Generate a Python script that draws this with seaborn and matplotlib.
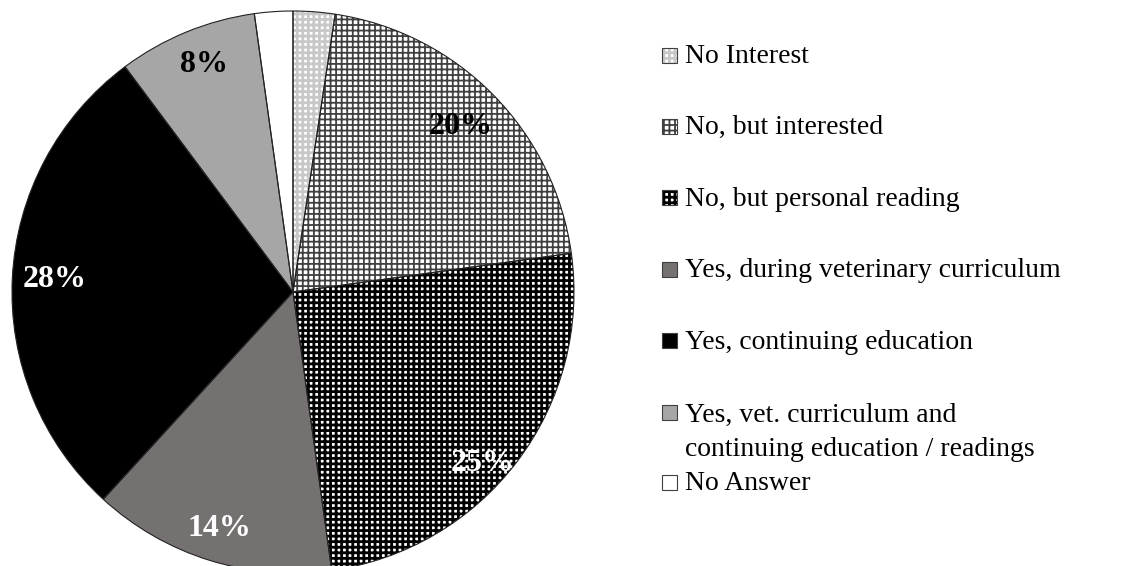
import matplotlib
matplotlib.use("Agg")
import matplotlib.pyplot as plt
from matplotlib.patches import Rectangle
import numpy as np
import seaborn as sns

categories = ["No Interest", "No, but interested", "No, but personal reading",
              "Yes, during veterinary curriculum", "Yes, continuing education",
              "Yes, vet. curriculum and\ncontinuing education / readings",
              "No Answer"]
shares = [2.4, 20.4, 25.0, 14.0, 28.0, 8.0, 2.2]
pct_labels = ["", "20%", "25%", "14%", "28%", "8%", ""]

# styles (Excel-like pattern fills)
face = ["white", "white", "white", "#767171", "#000000", "#a6a6a6", "white"]
hatches = ["+++", "+++", "+++", None, None, None, None]
hatch_col = ["#c8c8c8", "#404040", "#000000", None, None, None, None]
hatch_lw = [2.0, 1.3, 2.0, 1, 1, 1, 1]
lab_col = ["black", "black", "white", "white", "white", "black", "black"]
lab_dist = [0.85, 0.84, 0.91, 0.88, 0.85, 0.87, 0.85]
lab_shift = [0, 0, -5, 0, 0, -1, 0]  # degrees, nudges like Excel's best fit

sns.set_theme(style="white")
plt.rcParams["font.family"] = ["Liberation Serif", "DejaVu Serif"]
plt.rcParams["hatch.linewidth"] = 2.0

W, H = 1129, 566
fig = plt.figure(figsize=(W / 100, H / 100), dpi=100)
cx, cy, r = 293, 292, 281
ax = fig.add_axes([(cx - r) / W, (H - cy - r) / H, 2 * r / W, 2 * r / H])

wedges, _ = ax.pie(shares, startangle=90, counterclock=False, colors=face,
                   wedgeprops=dict(linewidth=0))
for w, h, hc, hl in zip(wedges, hatches, hatch_col, hatch_lw):
    if h:
        w.set_hatch(h)
        w.set_edgecolor(hc)
        w.set_linewidth(0)
        if hasattr(w, "set_hatch_linewidth"):
            w.set_hatch_linewidth(hl)

# outlines
ax.pie(shares, startangle=90, counterclock=False,
       wedgeprops=dict(facecolor="none", edgecolor="#222222", linewidth=0.8))

for w, lab, c, d, s in zip(wedges, pct_labels, lab_col, lab_dist, lab_shift):
    if not lab:
        continue
    ang = np.deg2rad((w.theta1 + w.theta2) / 2 + s)
    ax.text(d * np.cos(ang), d * np.sin(ang), lab, ha="center", va="center",
            fontsize=23, fontweight="bold", color=c)

ax.set_xlim(-1, 1)
ax.set_ylim(-1, 1)
ax.axis("off")

# legend drawn by hand to follow the original's spacing
leg_x, box, txt_x = 662, 15, 685
y0, step, line = 55, 71.4, 35
ys = [y0 + step * i for i in range(6)] + [y0 + step * 5 + 2 * line]
for i, (lab, yc) in enumerate(zip(categories, ys)):
    rect = Rectangle((leg_x / W, 1 - (yc + box / 2) / H), box / W, box / H,
                     transform=fig.transFigure, facecolor=face[i],
                     edgecolor="#404040", linewidth=0.8)
    if hatches[i]:
        rect.set_hatch(hatches[i])
        rect.set_edgecolor(hatch_col[i])
        rect.set_linewidth(0)
        if hasattr(rect, "set_hatch_linewidth"):
            rect.set_hatch_linewidth(hatch_lw[i])
    fig.add_artist(rect)
    if hatches[i]:
        fig.add_artist(Rectangle((leg_x / W, 1 - (yc + box / 2) / H), box / W, box / H,
                                 transform=fig.transFigure, facecolor="none",
                                 edgecolor="#404040", linewidth=0.8))
    nlines = lab.count("\n")
    # va="baseline" pins the last line, so push down for wrapped labels
    fig.text(txt_x / W, 1 - (yc + 8 + 36 * nlines) / H, lab, va="baseline",
             ha="left", fontsize=20, color="black", linespacing=1.48)

fig.savefig("out.png", dpi=100)
